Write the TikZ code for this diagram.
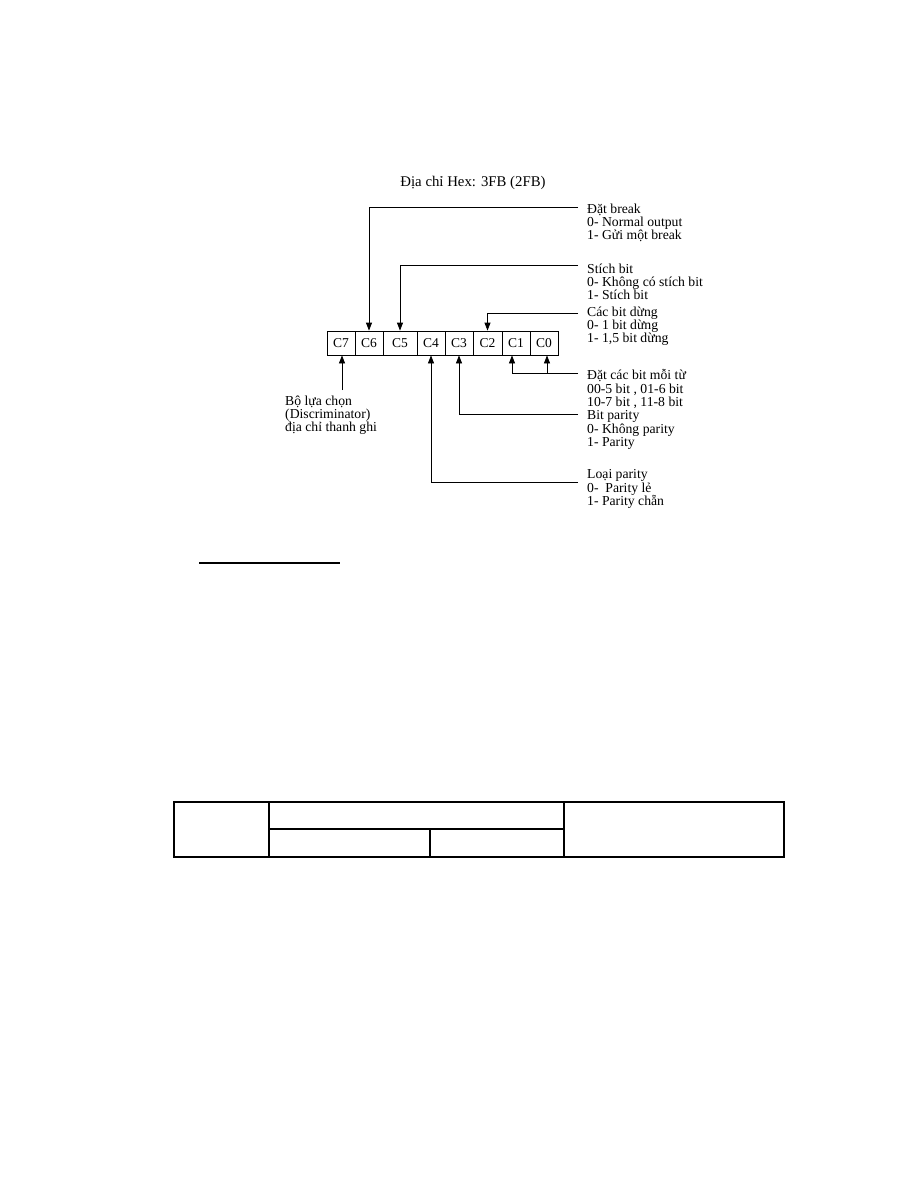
\documentclass[tikz,border=0pt]{standalone}
\usepackage{fontspec}
\setmainfont{Liberation Serif}
\usetikzlibrary{arrows.meta}
\begin{document}
\begin{tikzpicture}[x=1pt,y=-1pt,
  lbl/.style={font=\fontsize{13.7}{13.2}\selectfont, align=left, anchor=west, inner sep=0pt},
  cell/.style={draw, line width=0.8pt, minimum height=24pt, inner sep=0pt, font=\fontsize{13.5}{13}\selectfont},
  conn/.style={line width=0.8pt},
  arr/.style={line width=0.8pt, -{Triangle[width=6pt,length=8pt]}},
  tbl/.style={line width=1.3pt}]
\useasboundingbox (0,0) rectangle (918,1188);
\fill[white] (0,0) rectangle (918,1188);

% title
\node[font=\fontsize{14.8}{13}\selectfont, inner sep=0pt] (title) at (473,183) {Địa chỉ Hex: 3FB (2FB)};

% register cells
\node[cell, minimum width=28pt] (c7) at (341,343) {C7};
\node[cell, minimum width=28pt] (c6) at (369,343) {C6};
\node[cell, minimum width=34pt] (c5) at (400,343) {C5\hspace{8pt}};
\node[cell, minimum width=28pt] (c4) at (431,343) {C4};
\node[cell, minimum width=28pt] (c3) at (459,343) {C3};
\node[cell, minimum width=29pt] (c2) at (487.5,343) {C2};
\node[cell, minimum width=28pt] (c1) at (516,343) {C1};
\node[cell, minimum width=28pt] (c0) at (544,343) {C0};

% labels
\node[lbl] (l1) at (587,223) {Đặt break\\0- Normal output\\1- Gửi một break};
\node[lbl] (l2) at (587,282) {Stích bit\\0- Không có stích bit\\1- Stích bit};
\node[lbl] (l3) at (587,326.5) {Các bit dừng\\0- 1 bit dừng\\1- 1,5 bit dừng};
\node[lbl] (l4) at (587,389) {Đặt các bit mỗi từ\\00-5 bit , 01-6 bit\\10-7 bit , 11-8 bit};
\node[lbl] (l5) at (587,430) {Bit parity\\0- Không parity\\1- Parity};
\node[lbl] (l6) at (587,489) {Loại parity\\0-\ \ Parity lẻ\\1- Parity chẵn};
\node[lbl] (l7) at (285,415) {Bộ lựa chọn\\(Discriminator)\\địa chỉ thanh ghi};

% connector start points
\coordinate (e1) at (578,207);
\coordinate (e2) at (578,265);
\coordinate (e3) at (578,313);
\coordinate (e4) at (578,373);
\coordinate (e5) at (578,414);
\coordinate (e6) at (578,482);
\coordinate (e7) at (342,390);

\draw[arr] (e1) -| (c6.north);
\draw[arr] (e2) -| (c5.north);
\draw[arr] (e3) -| (c2.north);
\draw[arr] (e4) -| ([xshift=-4pt]c1.south);
\draw[arr] ([xshift=-4pt]c1.south |- e4) ++(35,0) coordinate (e4b) -- ([xshift=3pt]c0.south);
\draw[arr] (e5) -| (c3.south);
\draw[arr] (e6) -| (c4.south);
\draw[arr] (e7) -- (c7.south -| e7);

% underline
\coordinate (u1) at (199,563);
\coordinate (u2) at (340,563);
\draw[line width=1.3pt] (u1) -- (u2);

% table
\coordinate (t1) at (174,802);
\coordinate (t2) at (784,857);
\draw[tbl] (t1) rectangle (t2);
\draw[tbl] (269,802) -- (269,857);
\draw[tbl] (564,802) -- (564,857);
\draw[tbl] (269,829) -- (564,829);
\draw[tbl] (430,829) -- (430,857);
\end{tikzpicture}
\end{document}
